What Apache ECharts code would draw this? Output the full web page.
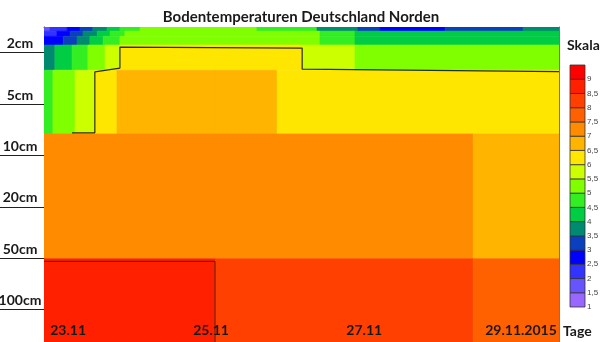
<!DOCTYPE html>
<html>
<head>
<meta charset="utf-8">
<script src="https://cdn.jsdelivr.net/npm/echarts@6/dist/echarts.min.js"></script>
<style>
  html, body { margin: 0; padding: 0; background: #fff; }
  #chart { width: 600px; height: 342px; }
</style>
</head>
<body>
<div id="chart"></div>
<script>
// Time axis: hours since the start of the plotted period
const dayTicks = [7.3, 50.6, 97, 144.5];
const dayLabels = ['23.11', '25.11', '27.11', '29.11.2015'];

// Depth axis: one band per measuring depth
const depthTicks = [0.5, 1.5, 2.5, 3.5, 4.5, 5.5];
const depthLabels = ['2cm', '5cm', '10cm', '20cm', '50cm', '100cm'];

// Colour scale (°C), lower bound of each class, coldest first
const scaleLows = [1, 1.5, 2, 2.5, 3, 3.5, 4, 4.5, 5, 5.5, 6, 6.5, 7, 7.5, 8, 8.5, 9];
const scaleColors = ['#9966ff', '#6655ff', '#3333ff', '#0000ff', '#0a3fbd', '#008a70',
  '#00cc44', '#33ee22', '#80ff00', '#ccff00', '#ffe600', '#ffb400', '#ff8c00',
  '#ff6000', '#ff4000', '#ff2000', '#ff0000'];

// Soil layers: depth extent, time break points (h) and temperature (°C) per interval
const layerDepth = [[0, 0.08], [0.08, 0.18], [0.18, 0.35], [0.35, 0.84], [0.84, 2.08], [2.08, 4.51], [4.51, 6.13]];
const layer0Hours = [0, 1.8, 7.0, 10.9, 14.8, 19.1, 23.0, 29.1, 64.5, 82.7, 95.1, 101.8, 121.5, 145.1, 156];
const layer0Temps = [1.8, 2.3, 2.8, 3.3, 3.8, 4.3, 4.8, 5.2, 4.8, 3.8, 3.3, 2.8, 3.3, 3.8];
const layer1Hours = [0, 3.9, 7.9, 11.8, 16.1, 20.0, 24.5, 83.6, 94.2, 156];
const layer1Temps = [2.3, 2.8, 3.3, 3.8, 4.3, 4.8, 5.2, 4.8, 4.3];
const layer2Hours = [0, 5.8, 10.0, 13.9, 17.9, 23.0, 83.6, 94.2, 156];
const layer2Temps = [2.8, 3.3, 3.8, 4.3, 4.8, 5.2, 4.8, 4.3];
const layer3Hours = [0, 3.3, 8.5, 13.3, 18.5, 23.0, 78.2, 94.2, 156];
const layer3Temps = [3.8, 4.3, 4.8, 5.2, 5.8, 6.2, 5.8, 5.2];
const layer4Hours = [0, 2.7, 9.4, 15.4, 22.1, 51.8, 70.6, 156];
const layer4Temps = [4.8, 5.2, 5.8, 6.2, 6.8, 6.6, 6.2];
const layer5Hours = [0, 130, 156];
const layer5Temps = [7.2, 6.8];
const layer6Hours = [0, 51.8, 130, 156];
const layer6Temps = [8.7, 8.2, 7.7];

// Isotherms [hour, depth]
const isotherm6 = [[8.5, 2.06], [15.4, 2.06], [15.4, 0.875], [23.0, 0.80], [23.0, 0.39],
  [78.2, 0.41], [78.2, 0.82], [156, 0.87]];
const isotherm85 = [[0, 4.56], [51.8, 4.56], [51.8, 6.13]];

const layerHours = [layer0Hours, layer1Hours, layer2Hours, layer3Hours, layer4Hours, layer5Hours, layer6Hours];
const layerTemps = [layer0Temps, layer1Temps, layer2Temps, layer3Temps, layer4Temps, layer5Temps, layer6Temps];

function colorFor(t) {
  let idx = 0;
  for (let i = 0; i < scaleLows.length; i++) {
    if (t >= scaleLows[i]) idx = i;
  }
  return scaleColors[idx];
}

// [hourStart, hourEnd, depthTop, depthBottom, temperature]
const cells = [];
layerHours.forEach((hours, li) => {
  const temps = layerTemps[li];
  for (let j = 0; j < temps.length; j++) {
    cells.push([hours[j], hours[j + 1], layerDepth[li][0], layerDepth[li][1], temps[j]]);
  }
});

const legendCells = scaleLows.map(v => [0, 1, v, v + 0.5, v + 0.25]);

function rectItem(api, stroke, lw) {
  const p0 = api.coord([api.value(0), api.value(2)]);
  const p1 = api.coord([api.value(1), api.value(3)]);
  const x = Math.min(p0[0], p1[0]);
  const y = Math.min(p0[1], p1[1]);
  const fill = colorFor(api.value(4));
  return {
    type: 'rect',
    shape: { x: x, y: y, width: Math.abs(p1[0] - p0[0]), height: Math.abs(p1[1] - p0[1]) },
    style: { fill: fill, stroke: stroke || fill, lineWidth: lw }
  };
}

const font = 'Lato, "Open Sans", sans-serif';
const chart = echarts.init(document.getElementById('chart'), null, { renderer: 'canvas' });

chart.setOption({
  animation: false,
  backgroundColor: '#ffffff',
  title: [
    {
      text: 'Bodentemperaturen Deutschland Norden',
      left: 296, top: 5, textAlign: 'center',
      textStyle: { fontFamily: font, fontWeight: 'bold', fontSize: 15, color: '#1a1a1a' }
    },
    {
      text: 'Skala',
      left: 562, top: 33,
      textStyle: { fontFamily: font, fontWeight: 'bold', fontSize: 14, color: '#1a1a1a' }
    }
  ],
  grid: [
    { left: 44, right: 41, top: 27, bottom: 0, outerBoundsMode: 'none', containLabel: false },
    { left: 570, width: 15, top: 65, height: 242, outerBoundsMode: 'none', containLabel: false }
  ],
  xAxis: [
    {
      gridIndex: 0, type: 'value', min: 0, max: 156, position: 'bottom',
      name: 'Tage', nameLocation: 'end', nameGap: 4,
      nameTextStyle: { fontFamily: font, fontWeight: 'bold', fontSize: 14, color: '#1a1a1a',
        verticalAlign: 'bottom', padding: [0, 0, 4, 0] },
      axisLine: { show: false, onZero: false },
      axisTick: { show: false },
      splitLine: { show: false },
      axisLabel: {
        inside: true, margin: 5, customValues: dayTicks,
        formatter: v => dayLabels[dayTicks.indexOf(v)],
        fontFamily: font, fontWeight: 'bold', fontSize: 14, color: '#1a1a1a'
      },
      z: 10
    },
    {
      gridIndex: 0, type: 'value', min: 0, max: 156, position: 'top',
      axisLine: { show: true, onZero: false, lineStyle: { color: '#555', width: 1 } },
      axisTick: { show: false }, axisLabel: { show: false }, splitLine: { show: false }
    },
    { gridIndex: 1, type: 'value', min: 0, max: 1, show: false }
  ],
  yAxis: [
    {
      gridIndex: 0, type: 'value', inverse: true, min: 0, max: 6.13,
      axisLine: { show: true, onZero: false, lineStyle: { color: '#333', width: 1 } },
      axisTick: { show: true, customValues: depthTicks, length: 44, lineStyle: { color: '#222', width: 1 } },
      splitLine: { show: false },
      axisLabel: {
        customValues: depthTicks, margin: 24, align: 'center', verticalAlign: 'bottom',
        padding: [0, 0, 2, 0],
        formatter: v => depthLabels[depthTicks.indexOf(v)],
        fontFamily: font, fontWeight: 'bold', fontSize: 14, color: '#1a1a1a'
      }
    },
    {
      gridIndex: 0, type: 'value', inverse: true, min: 0, max: 6.13, position: 'right',
      axisLine: { show: true, onZero: false, lineStyle: { color: '#777', width: 1 } },
      axisTick: { show: false }, axisLabel: { show: false }, splitLine: { show: false }
    },
    {
      gridIndex: 1, type: 'value', min: 1, max: 9.5, interval: 0.5, position: 'right',
      axisLine: { show: false }, axisTick: { show: false }, splitLine: { show: false },
      axisLabel: {
        margin: 2, fontSize: 8, color: '#444', fontFamily: '"Liberation Sans", Arial, sans-serif',
        formatter: v => (v > 9 ? '' : String(v).replace('.', ','))
      }
    }
  ],
  series: [
    {
      type: 'custom', xAxisIndex: 0, yAxisIndex: 0, clip: true,
      encode: { x: [0, 1], y: [2, 3] },
      renderItem: (params, api) => rectItem(api, null, 0.6),
      data: cells
    },
    {
      type: 'line', xAxisIndex: 0, yAxisIndex: 0,
      data: isotherm6, showSymbol: false, silent: true,
      lineStyle: { color: '#2b2b14', width: 1.2 }, z: 5
    },
    {
      type: 'line', xAxisIndex: 0, yAxisIndex: 0,
      data: isotherm85, showSymbol: false, silent: true,
      lineStyle: { color: '#5a1800', width: 1 }, z: 5
    },
    {
      type: 'custom', xAxisIndex: 2, yAxisIndex: 2,
      encode: { x: [0, 1], y: [2, 3] },
      renderItem: (params, api) => rectItem(api, '#333', 0.8),
      data: legendCells
    }
  ]
});
</script>
</body>
</html>
